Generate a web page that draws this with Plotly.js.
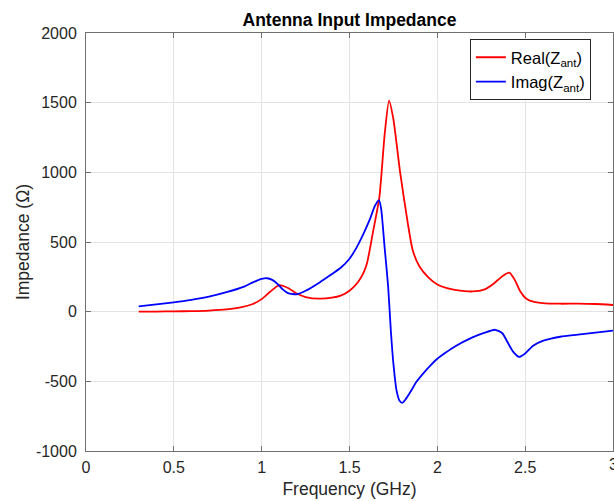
<!DOCTYPE html>
<html>
<head>
<meta charset="utf-8">
<script src="https://cdn.plot.ly/plotly-3.0.1.min.js"></script>
<style>html,body{margin:0;padding:0;background:#fff;}#chart{width:614px;height:501px;}</style>
</head>
<body>
<div id="chart"></div>
<script>
var realFreq = [0.3,0.4,0.5,0.6,0.7,0.8,0.88,0.95,1.0,1.05,1.10,1.15,1.2,1.25,1.33,1.40,1.45,1.50,1.55,1.58,1.60,1.635,1.67,1.70,1.725,1.75,1.787,1.83,1.86,1.90,1.95,2.0,2.05,2.1,2.2,2.27,2.32,2.37,2.41,2.44,2.47,2.50,2.53,2.6,2.7,2.8,2.9,3.0];
var realVals = [0,1,2,4,8,16,30,55,90,145,190,170,130,105,93,100,115,150,215,280,350,580,820,1270,1515,1380,1010,650,440,320,245,195,170,157,145,160,200,255,280,230,150,100,78,62,57,58,55,48];

var imagFreq = [0.3,0.4,0.5,0.6,0.7,0.8,0.9,0.95,1.0,1.03,1.06,1.09,1.12,1.15,1.20,1.25,1.33,1.40,1.45,1.50,1.54,1.58,1.615,1.645,1.668,1.68,1.70,1.72,1.735,1.75,1.768,1.785,1.80,1.82,1.85,1.88,1.93,1.96,2.0,2.05,2.1,2.2,2.27,2.33,2.37,2.40,2.43,2.465,2.50,2.545,2.6,2.7,2.8,2.9,3.0];
var imagVals = [38,52,67,85,108,140,180,210,235,240,228,200,160,133,125,150,210,270,315,380,460,560,660,760,800,740,460,180,-130,-375,-567,-640,-655,-628,-570,-505,-428,-387,-338,-292,-250,-185,-150,-130,-155,-220,-285,-325,-300,-245,-210,-180,-165,-150,-136];

var xTickVals = [0,0.5,1,1.5,2,2.5];
var xTickText = ['0','0.5','1','1.5','2','2.5'];
var xLastTick = '3';
var yTickVals = [-1000,-500,0,500,1000,1500,2000];
var yTickText = ['-1000','-500','0','500','1000','1500','2000'];

var fam = 'Liberation Sans, Arial, sans-serif';

var traces = [
  {x: realFreq, y: realVals, type: 'scatter', mode: 'lines', name: 'Real(Z<sub>ant</sub>)',
   line: {color: '#ff0000', width: 1.8, shape: 'spline', smoothing: 0.6}},
  {x: imagFreq, y: imagVals, type: 'scatter', mode: 'lines', name: 'Imag(Z<sub>ant</sub>)',
   line: {color: '#0000ff', width: 1.8, shape: 'spline', smoothing: 0.6}}
];

var axisCommon = {
  showline: true, linecolor: '#707070', linewidth: 1, mirror: 'ticks',
  ticks: 'inside', ticklen: 5, tickcolor: '#707070',
  showgrid: true, gridcolor: '#e3e3e3', gridwidth: 1, zeroline: false,
  tickfont: {family: fam, size: 16, color: '#262626'}
};

var layout = {
  width: 614, height: 501,
  margin: {l: 86, r: 1, t: 33, b: 50},
  paper_bgcolor: '#ffffff', plot_bgcolor: '#ffffff',
  font: {family: fam, color: '#262626'},
  title: {text: '<b>Antenna Input Impedance</b>', x: 0.5, xref: 'paper', y: 1 - 20/501, yref: 'container', yanchor: 'middle',
          font: {size: 17.5, color: '#000000', family: fam}},
  xaxis: Object.assign({}, axisCommon, {range: [0, 3], tickvals: xTickVals, ticktext: xTickText, ticklabelstandoff: 2,
          title: {text: 'Frequency (GHz)', font: {size: 17.5, color: '#262626'}, standoff: 7}}),
  yaxis: Object.assign({}, axisCommon, {range: [-1000, 2000], tickvals: yTickVals, ticktext: yTickText, ticklabelstandoff: 5,
          title: {text: 'Impedance (Ω)', font: {size: 17.5, color: '#262626'}, standoff: 1}}),
  showlegend: true,
  legend: {x: 0.958, xanchor: 'right', y: 0.9856, yanchor: 'top', bgcolor: '#ffffff',
           bordercolor: '#262626', borderwidth: 1, font: {size: 16.5, color: '#000000'},
           tracegroupgap: 0},
  annotations: [
    {x: 3, xref: 'x', y: 0, yref: 'paper', yanchor: 'top', yshift: -3, text: xLastTick, showarrow: false,
     font: {family: fam, size: 16, color: '#262626'}}
  ]
};

Plotly.newPlot('chart', traces, layout, {displayModeBar: false, staticPlot: true});
</script>
</body>
</html>
